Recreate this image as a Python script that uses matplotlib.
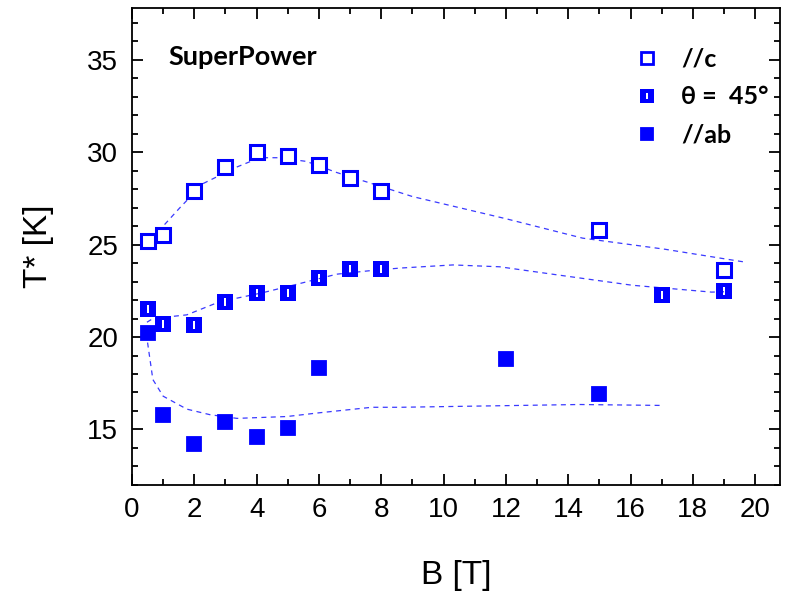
import matplotlib
matplotlib.use("Agg")
import matplotlib.pyplot as plt
from matplotlib.lines import Line2D
from matplotlib.path import Path
from matplotlib.ticker import MultipleLocator

# data
c_B = [0.5, 1, 2, 3, 4, 5, 6, 7, 8, 15, 19]
c_T = [25.2, 25.5, 27.9, 29.2, 30.0, 29.8, 29.3, 28.6, 27.9, 25.8, 23.6]

t45_B = [0.5, 1, 2, 3, 4, 5, 6, 7, 8, 17, 19]
t45_T = [21.5, 20.7, 20.65, 21.9, 22.4, 22.4, 23.2, 23.7, 23.7, 22.3, 22.5]

ab_B = [0.5, 1, 2, 3, 4, 5, 6, 12, 15]
ab_T = [20.2, 15.8, 14.2, 15.4, 14.6, 15.1, 18.3, 18.8, 16.9]

# guide-to-the-eye dashed curves
c_fit_B = [0.48, 1.0, 1.54, 2.28, 3.37, 4.1, 4.7, 5.6, 6.57, 7.7, 9.0, 10.5, 12.0, 14.46, 17.1, 19.5, 19.7]
c_fit_T = [24.9, 26.0, 27.0, 28.3, 29.2, 29.7, 29.7, 29.5, 28.9, 28.3, 27.6, 27.0, 26.4, 25.35, 24.75, 24.1, 24.05]

t45_fit_B = [0.48, 0.67, 1.76, 2.8, 4.2, 5.4, 6.57, 7.7, 8.6, 10.3, 11.8, 13.7, 16.06, 18.6, 19.0]
t45_fit_T = [20.8, 21.0, 21.2, 21.9, 22.4, 22.9, 23.4, 23.6, 23.73, 23.9, 23.8, 23.35, 22.8, 22.43, 22.45]

ab_fit_B = [0.5, 0.67, 1.0, 1.76, 2.5, 3.37, 4.97, 6.0, 7.7, 8.6, 14.36, 17.0]
ab_fit_T = [19.7, 17.7, 16.8, 16.1, 15.8, 15.6, 15.7, 15.9, 16.2, 16.2, 16.35, 16.3]

xlabel = "B [T]"
ylabel = "T* [K]"
title_text = "SuperPower"
labels = ["//c", "\u03b8 =  45\u00b0", "//ab"]

blue = "#0000ff"
lblue = "#3a3aff"

# half-filled square marker: filled square with a thin vertical slot
outer = [(-1, -1), (1, -1), (1, 1), (-1, 1), (-1, -1)]
inner = [(-0.13, -0.5), (-0.13, 0.5), (0.13, 0.5), (0.13, -0.5), (-0.13, -0.5)]
codes = [Path.MOVETO, Path.LINETO, Path.LINETO, Path.LINETO, Path.CLOSEPOLY]
slot_sq = Path(outer + inner, codes + codes)

fig = plt.figure(figsize=(7.88, 5.95), dpi=100)
ax = fig.add_axes([0.1675, 0.185, 0.8225, 0.8016])

dash = (0, (4, 3.5))
ax.plot(c_fit_B, c_fit_T, color=lblue, lw=0.9, ls=dash, zorder=1)
ax.plot(t45_fit_B, t45_fit_T, color=lblue, lw=0.9, ls=dash, zorder=1)
ax.plot(ab_fit_B, ab_fit_T, color=lblue, lw=0.9, ls=dash, zorder=1)

ms = 10
ax.plot(c_B, c_T, ls="none", marker="s", ms=ms, mfc="white", mec=blue, mew=2.2, zorder=3)
ax.plot(t45_B, t45_T, ls="none", marker=slot_sq, ms=ms + 1.3, mfc=blue, mec="none", mew=0, zorder=3)
ax.plot(ab_B, ab_T, ls="none", marker="s", ms=ms, mfc=blue, mec=blue, mew=1.3, zorder=3)

ax.set_xlim(0, 20.8)
ax.set_ylim(12, 37.8)
ax.xaxis.set_major_locator(MultipleLocator(2))
ax.xaxis.set_minor_locator(MultipleLocator(1))
ax.yaxis.set_major_locator(MultipleLocator(5))
ax.yaxis.set_minor_locator(MultipleLocator(1))
ax.tick_params(which="both", direction="in", top=True, right=True, labelsize=20, width=1.3)
ax.tick_params(which="major", length=8)
ax.tick_params(which="minor", length=4)
ax.tick_params(axis="x", pad=9)
ax.tick_params(axis="y", pad=10)
for s in ax.spines.values():
    s.set_linewidth(1.3)
for lab in ax.get_xticklabels() + ax.get_yticklabels():
    lab.set_family("Liberation Sans")

ax.set_xlabel(xlabel, fontsize=24, family="Liberation Sans", labelpad=26)
ax.set_ylabel(ylabel, fontsize=24, family="Liberation Sans", labelpad=24)

ax.text((168 - 132) / 648, (485 - 57) / 477, title_text, transform=ax.transAxes,
        fontsize=19.5, fontweight="bold", family="Lato", va="center")

h_c = Line2D([], [], ls="none", marker="s", ms=8.5, mfc="white", mec=blue, mew=2)
h_45 = Line2D([], [], ls="none", marker=slot_sq, ms=10, mfc=blue, mec="none", mew=0)
h_ab = Line2D([], [], ls="none", marker="s", ms=8.5, mfc=blue, mec=blue, mew=1.3)
leg = ax.legend([h_c, h_45, h_ab], labels, loc="center left",
                bbox_to_anchor=(0.747, (485 - 97) / 477), frameon=False, fontsize=18,
                handlelength=0.7, handletextpad=1.0, labelspacing=0.6)
for t in leg.get_texts():
    t.set_fontweight("bold")
    t.set_family("Lato")

fig.savefig("out.png", dpi=100)
